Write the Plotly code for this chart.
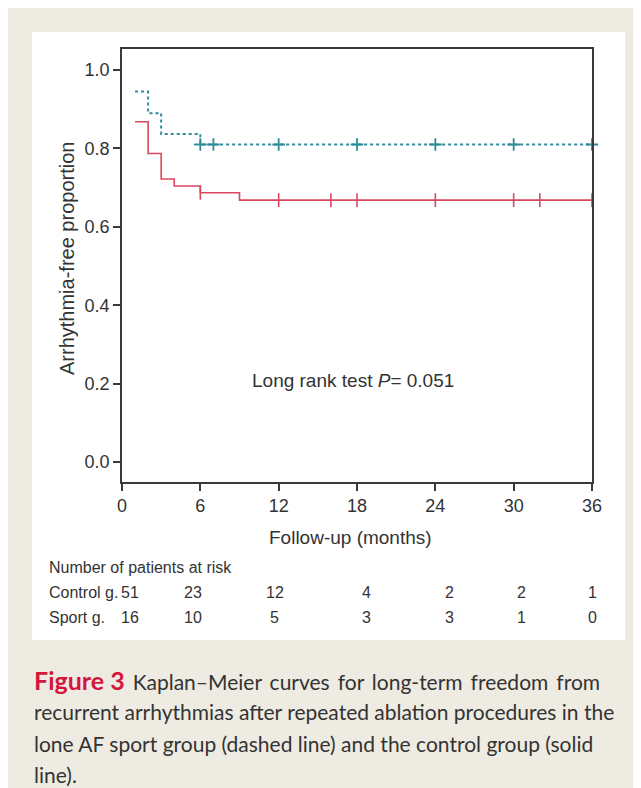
import numpy as np
import plotly.graph_objects as go

# ---------------- data ----------------
months_ticks = [0, 6, 12, 18, 24, 30, 36]
y_ticks = [0.0, 0.2, 0.4, 0.6, 0.8, 1.0]

sport_t = [1, 2, 3, 6, 36]
sport_s = [0.945, 0.890, 0.837, 0.810, 0.810]
sport_censor = [6, 7, 12, 18, 24, 30, 36]

control_t = [1, 2, 3, 4, 6, 9, 36]
control_s = [0.868, 0.787, 0.722, 0.704, 0.687, 0.668, 0.668]
control_censor = [6, 12, 16, 18, 24, 30, 32, 36]

risk_cols = [0.6, 5.4, 11.7, 18.7, 25.1, 30.6, 36.0]
risk_control = [51, 23, 12, 4, 2, 2, 1]
risk_sport = [16, 10, 5, 3, 3, 1, 0]

caption_words_1 = ["Kaplan\u2013Meier", "curves", "for", "long-term", "freedom", "from"]
caption_lines = [
    '<span style="color:#d4163c;font-size:25px"><b>Figure 3</b></span> \u2009'
    + " \u2009".join(caption_words_1),
    'recurrent arrhythmias after repeated ablation procedures in the',
    'lone AF sport group (dashed line) and the control group (solid',
    'line).',
]

# ---------------- layout helpers ----------------
W, H = 641, 788
OFF = 8  # page body margin
PW, PH = 470, 433
L, T = 122 - OFF, 49 - OFF
R, B = W - L - PW, H - T - PH


def px(x):  # reference page x -> paper
    return (x - OFF - L) / PW


def py(y):  # reference page y -> paper
    return (T + PH - (y - OFF)) / PH


def step_value(times, surv, t):
    i = np.searchsorted(np.array(times), t, side="right") - 1
    return surv[max(i, 0)]


TEAL = "#2e8b9a"
RED = "#d9475e"
AX = "#3a3a3a"
TXT = "#333333"
FONT = "Liberation Sans, Arial, sans-serif"

fig = go.Figure()

fig.add_trace(go.Scatter(x=control_t, y=control_s, mode="lines",
                         line=dict(color=RED, width=1.6, shape="hv"),
                         showlegend=False, hoverinfo="skip"))
fig.add_trace(go.Scatter(x=sport_t, y=sport_s, mode="lines",
                         line=dict(color=TEAL, width=2, shape="hv", dash="3px,3px"),
                         showlegend=False, hoverinfo="skip"))

fig.add_trace(go.Scatter(x=control_censor,
                         y=[step_value(control_t, control_s, t) for t in control_censor],
                         mode="markers",
                         marker=dict(symbol="line-ns", size=10, line=dict(color=RED, width=1.6)),
                         showlegend=False, hoverinfo="skip", cliponaxis=False))
fig.add_trace(go.Scatter(x=sport_censor,
                         y=[step_value(sport_t, sport_s, t) for t in sport_censor],
                         mode="markers",
                         marker=dict(symbol="cross-thin", size=9, line=dict(color=TEAL, width=1.8)),
                         showlegend=False, hoverinfo="skip", cliponaxis=False))

shapes = [
    dict(type="rect", xref="paper", yref="paper", x0=px(32), x1=px(625), y0=py(32), y1=py(640),
         fillcolor="white", line=dict(width=0), layer="below"),
]

annotations = []
annotations.append(dict(text="Long rank test <i>P</i>= 0.051", x=17.7, y=0.207, xref="x", yref="y",
                        xanchor="center", yanchor="middle",
                        showarrow=False, font=dict(size=19, color=TXT, family=FONT)))
annotations.append(dict(text="Arrhythmia-free proportion", x=px(67), y=py(259), xref="paper", yref="paper",
                        xanchor="center", yanchor="middle",
                        textangle=-90, showarrow=False, font=dict(size=20, color=TXT, family=FONT)))
annotations.append(dict(text="Follow-up (months)", x=px(350), y=py(537), xref="paper", yref="paper",
                        xanchor="center", yanchor="middle",
                        showarrow=False, font=dict(size=19, color=TXT, family=FONT)))
annotations.append(dict(text="Number of patients at risk", x=px(47), y=py(567), xref="paper", yref="paper",
                        xanchor="left", yanchor="middle",
                        showarrow=False, font=dict(size=16, color=TXT, family=FONT)))
for label, row, yy in [("Control g.", risk_control, 592), ("Sport g.", risk_sport, 617)]:
    annotations.append(dict(text=label, x=px(47), y=py(yy), xref="paper", yref="paper",
                            xanchor="left", yanchor="middle",
                            showarrow=False, font=dict(size=16, color=TXT, family=FONT)))
    for xc, n in zip(risk_cols, row):
        annotations.append(dict(text=str(n), x=xc, y=py(yy), xref="x", yref="paper",
                                xanchor="center", yanchor="middle",
                                showarrow=False, font=dict(size=16, color=TXT, family=FONT)))

for i, line in enumerate(caption_lines):
    annotations.append(dict(text=line, x=px(32), y=py(680 + 31.5 * i), xref="paper", yref="paper",
                            xanchor="left", yanchor="middle", showarrow=False,
                            font=dict(size=21, color=TXT, family="Lato, Open Sans, sans-serif")))

fig.update_layout(
    width=W, height=H,
    margin=dict(l=L, r=R, t=T, b=B),
    paper_bgcolor="#eeebe2",
    plot_bgcolor="white",
    shapes=shapes,
    annotations=annotations,
    font=dict(family=FONT, color=TXT),
)
fig.update_xaxes(range=[0, 36], tickvals=months_ticks, ticktext=[str(m) for m in months_ticks],
                 showgrid=False, zeroline=False, showline=True, linecolor=AX, linewidth=1.5,
                 mirror=True, ticks="outside", ticklen=7, tickwidth=1.5, tickcolor=AX,
                 tickfont=dict(size=18, color=TXT, family=FONT))
fig.update_yaxes(range=[-0.051, 1.0536], tickvals=y_ticks, ticktext=[f"{v:.1f}" for v in y_ticks],
                 showgrid=False, zeroline=False, showline=True, linecolor=AX, linewidth=1.5,
                 mirror=True, ticks="outside", ticklen=7, tickwidth=1.5, tickcolor=AX,
                 tickfont=dict(size=18, color=TXT, family=FONT))

fig.write_html("out.html")
